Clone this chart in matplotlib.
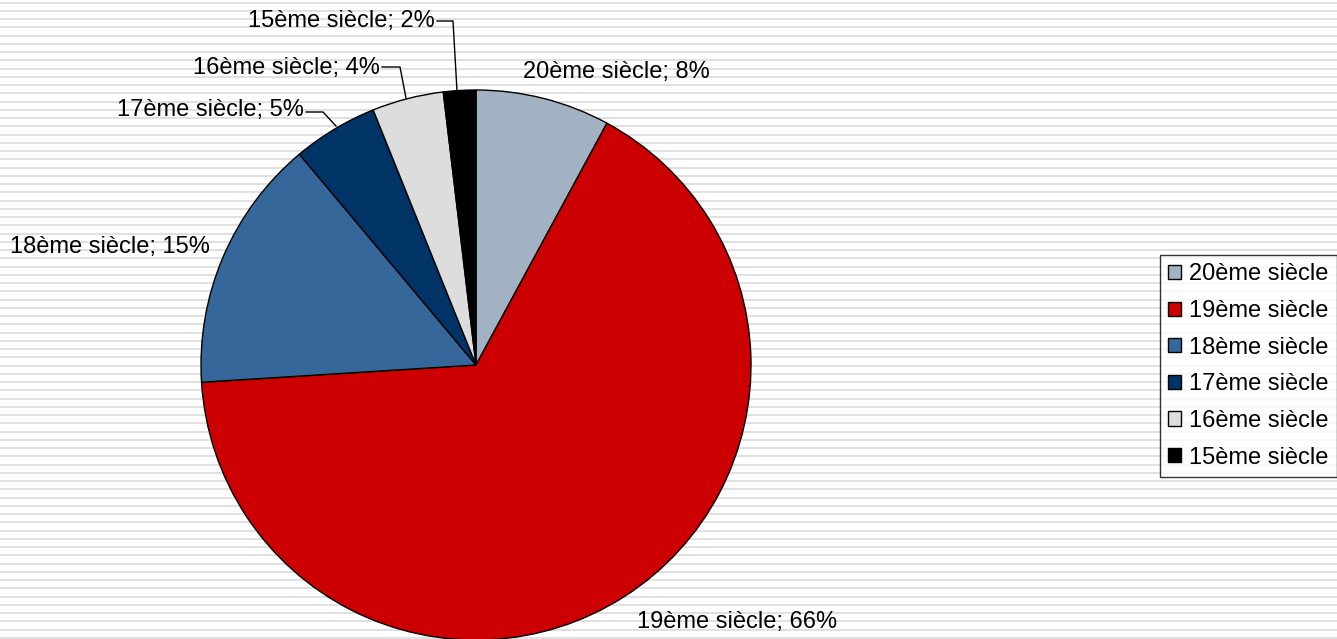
import matplotlib
matplotlib.use("Agg")
import matplotlib.pyplot as plt
from matplotlib.patches import Patch

categories = ["20ème siècle", "19ème siècle", "18ème siècle", "17ème siècle", "16ème siècle", "15ème siècle"]
values = [7.9, 66.1, 14.9, 5.0, 4.2, 1.9]
pct_labels = ["8%", "66%", "15%", "5%", "4%", "2%"]
colors = ["#A2B2C3", "#CC0000", "#36679A", "#003366", "#DDDDDD", "#000000"]

plt.rcParams['font.family'] = ['Liberation Sans', 'DejaVu Sans']
FS = 17

W, H = 1337, 639
fig = plt.figure(figsize=(W / 100, H / 100), dpi=100)

# striped background
bg = fig.add_axes([0, 0, 1, 1], zorder=0)
bg.set_xlim(0, W)
bg.set_ylim(H, 0)
bg.axis('off')
y = 2.5
while y < H + 8:
    bg.axhline(y, color="#DDDDDD", lw=1.3)
    y += 8.25

# pie axes: pixel-like mapping, center at (476, 365), radius 275 px
cx, cy, R = 476, 365, 275
ax = fig.add_axes([0, 0, 1, 1], zorder=1)
ax.patch.set_alpha(0)
ax.axis('off')

wedges, _ = ax.pie(values, colors=colors, startangle=90, counterclock=False,
                   radius=1.0, wedgeprops=dict(edgecolor='black', linewidth=1.0))
ax.set_xlim((0 - cx) / R, (W - cx) / R)
ax.set_ylim((cy - H) / R, (cy - 0) / R)
ax.set_aspect('auto')

def px(x, y):
    return ((x - cx) / R, (cy - y) / R)

texts = [f"{c}; {p}" for c, p in zip(categories, pct_labels)]

# labels without leader
ax.text(*px(616, 72), texts[0], ha='center', va='center', fontsize=FS)
ax.text(*px(737, 622), texts[1], ha='center', va='center', fontsize=FS)
ax.text(*px(110, 247), texts[2], ha='center', va='center', fontsize=FS)

# labels with leader lines
leaders = [
    (3, (304, 110), [(306, 112), (323, 112), (336, 126)]),
    (4, (380, 68), [(382, 67), (400, 67), (406, 98)]),
    (5, (435, 21), [(437, 21), (453, 21), (457, 91)]),
]
for idx, (tx, ty), pts in leaders:
    ax.text(*px(tx, ty), texts[idx], ha='right', va='center', fontsize=FS)
    xs = [px(x, y)[0] for x, y in pts]
    ys = [px(x, y)[1] for x, y in pts]
    ax.plot(xs, ys, color='black', lw=1.0)

handles = [Patch(facecolor=c, edgecolor='black', linewidth=1.0) for c in colors]
leg = fig.legend(handles, categories, loc='center left',
                 bbox_to_anchor=(1160 / W, (H - 366) / H), fontsize=FS,
                 frameon=True, fancybox=False, edgecolor='black',
                 handlelength=0.55, handleheight=0.55, handletextpad=0.34,
                 labelspacing=0.62, borderpad=0.35, borderaxespad=0)
leg.get_frame().set_linewidth(1.0)
leg.set_zorder(5)

fig.savefig("out.png", dpi=100)
